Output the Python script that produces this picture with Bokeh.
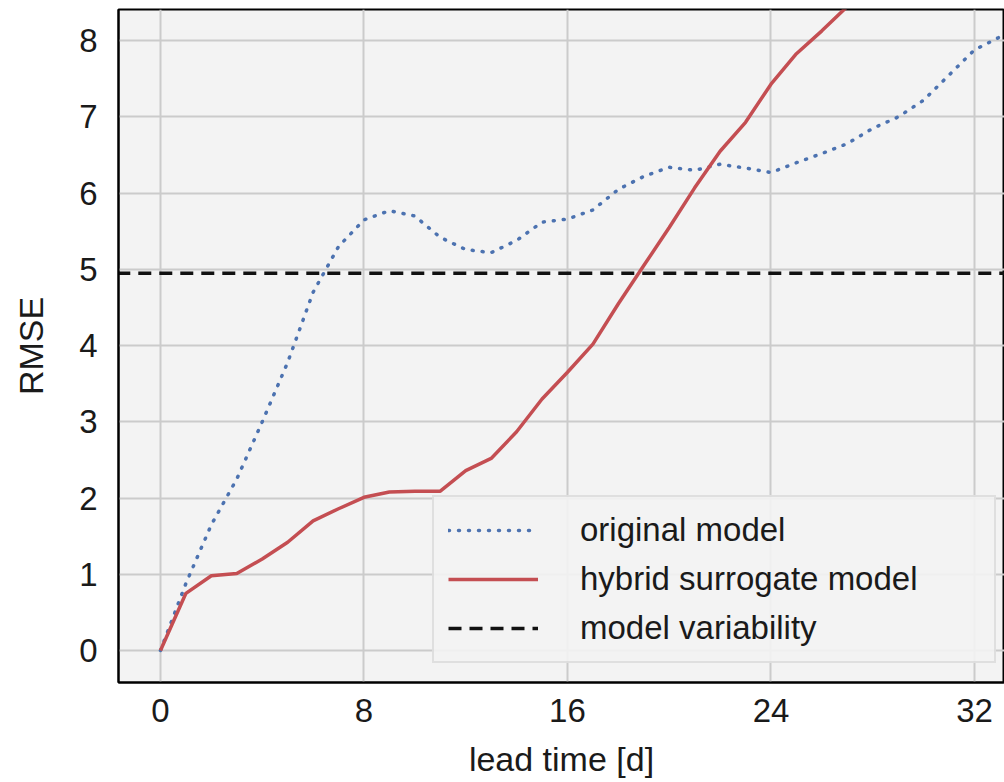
from bokeh.plotting import figure
from bokeh.models import Range1d, FixedTicker, Legend, LegendItem
from bokeh.embed import file_html
from bokeh.resources import INLINE

# ---- data ----
lead_time = list(range(0, 34))
original_model = [0.0, 0.88, 1.65, 2.25, 3.0, 3.78, 4.7, 5.3, 5.65, 5.77,
                  5.7, 5.42, 5.26, 5.22, 5.38, 5.62, 5.66, 5.78, 6.05, 6.22,
                  6.34, 6.3, 6.38, 6.33, 6.27, 6.4, 6.52, 6.65, 6.85, 7.0,
                  7.22, 7.55, 7.88, 8.05]
hybrid_days = list(range(0, 29))
hybrid_model = [0.0, 0.75, 0.98, 1.01, 1.2, 1.42, 1.70, 1.86, 2.01, 2.08,
                2.09, 2.09, 2.36, 2.52, 2.87, 3.3, 3.65, 4.02, 4.55, 5.05,
                5.55, 6.07, 6.55, 6.93, 7.43, 7.83, 8.13, 8.45, 8.75]
variability_x = [-5, 40]
variability_y = [4.95, 4.95]
x_ticks = [0, 8, 16, 24, 32]
y_ticks = [0, 1, 2, 3, 4, 5, 6, 7, 8]

FONT = "Liberation Sans"
TEXT = "#1a1a1a"

p = figure(width=1004, height=782, output_backend="svg", toolbar_location=None,
           x_range=Range1d(-1.65, 33.18), y_range=Range1d(-0.42, 8.41),
           min_border_left=118, min_border_right=0, min_border_top=9,
           min_border_bottom=100)

p.background_fill_color = "#f3f3f3"
p.border_fill_color = "white"
p.outline_line_color = "black"
p.outline_line_width = 2

p.xaxis.ticker = FixedTicker(ticks=x_ticks)
p.yaxis.ticker = FixedTicker(ticks=y_ticks)
p.xgrid.ticker = FixedTicker(ticks=x_ticks)
p.ygrid.ticker = FixedTicker(ticks=y_ticks)
p.grid.grid_line_color = "#cbcbcb"
p.grid.grid_line_width = 2

for ax in (p.xaxis, p.yaxis):
    ax.axis_line_color = "black"
    ax.axis_line_width = 2
    ax.major_tick_out = 0
    ax.major_tick_in = 0
    ax.minor_tick_out = 0
    ax.minor_tick_in = 0
    ax.major_label_text_font = FONT
    ax.major_label_text_font_size = "33px"
    ax.major_label_text_color = TEXT
    ax.axis_label_text_font = FONT
    ax.axis_label_text_font_size = "34px"
    ax.axis_label_text_font_style = "normal"
    ax.axis_label_text_color = TEXT

p.xaxis.major_label_standoff = 16
p.yaxis.major_label_standoff = 21
p.xaxis.axis_label = "lead time [d]"
p.yaxis.axis_label = "RMSE"
p.xaxis.axis_label_standoff = 15
p.yaxis.axis_label_standoff = 26

r_orig = p.line(lead_time, original_model, line_color="#4c72b0", line_width=3.5,
                line_dash="1 9", line_cap="round")
r_hyb = p.line(hybrid_days, hybrid_model, line_color="#c44e52", line_width=3.5)
r_var = p.line(variability_x, variability_y, line_color="#111111", line_width=3.5,
               line_dash="13 8")

legend = Legend(items=[
    LegendItem(label="original model", renderers=[r_orig]),
    LegendItem(label="hybrid surrogate model", renderers=[r_hyb]),
    LegendItem(label="model variability", renderers=[r_var]),
], location=(314, 19))
legend.label_text_font = FONT
legend.label_text_font_size = "33px"
legend.label_text_color = TEXT
legend.glyph_width = 90
legend.glyph_height = 34
legend.label_standoff = 42
legend.label_width = 400
legend.padding = 14
legend.spacing = 11
legend.margin = 0
legend.background_fill_color = "#f3f3f3"
legend.background_fill_alpha = 0.9
legend.border_line_color = "#cccccc"
legend.border_line_width = 2
p.add_layout(legend, "center")

open("out.html", "w").write(file_html(p, INLINE))
